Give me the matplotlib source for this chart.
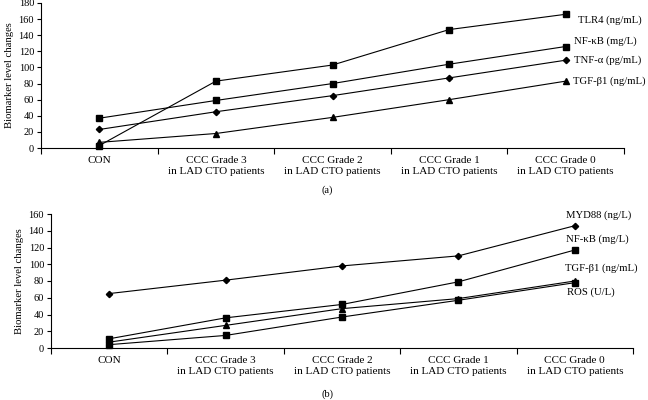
import matplotlib
matplotlib.use("Agg")
import matplotlib.pyplot as plt
from matplotlib.ticker import FixedLocator

plt.rcParams['font.family'] = ['Liberation Serif', 'DejaVu Serif']
plt.rcParams['font.size'] = 7.5

categories = ["CON",
              "CCC Grade 3\nin LAD CTO patients",
              "CCC Grade 2\nin LAD CTO patients",
              "CCC Grade 1\nin LAD CTO patients",
              "CCC Grade 0\nin LAD CTO patients"]

# panel (a)
tlr4 = [3, 83, 103, 147, 166]
nfkb_a = [37, 59, 80, 104, 126]
tnfa = [23, 45, 65, 87, 109]
tgfb1_a = [7, 18, 38, 60, 83]

# panel (b)
myd88 = [65, 81, 98, 110, 146]
nfkb_b = [11, 36, 52, 79, 117]
tgfb1_b = [7, 27, 47, 59, 80]
ros = [4, 15, 37, 57, 78]

series_a = [
    ("TLR4 (ng/mL)", tlr4, "s", 5.0, (9, -4)),
    ("NF-κB (mg/L)", nfkb_a, "s", 3.8, (6, 3.5)),
    ("TNF-α (pg/mL)", tnfa, "D", 3.2, (6, 0)),
    ("TGF-β1 (ng/mL)", tgfb1_a, "^", 4.0, (5, 0)),
]
series_b = [
    ("MYD88 (ng/L)", myd88, "D", 3.2, (-6, 7.5)),
    ("NF-κB (mg/L)", nfkb_b, "s", 3.8, (-6, 7.5)),
    ("TGF-β1 (ng/mL)", tgfb1_b, "^", 4.0, (-7, 9.5)),
    ("ROS (U/L)", ros, "s", 5.0, (-5.5, -7)),
]

fig = plt.figure(figsize=(6.48, 4.0), dpi=100)
ax1 = fig.add_axes([41 / 648, 1 - 148 / 400, 583 / 648, 145 / 400])
ax2 = fig.add_axes([51 / 648, 1 - 348 / 400, 582 / 648, 134 / 400])


def style(ax, ymax, series):
    x = [i + 0.5 for i in range(len(categories))]
    for name, vals, mk, ms, off in series:
        ax.plot(x, vals, color="black", lw=0.8, marker=mk, ms=ms,
                mfc="black", mec="black", clip_on=False)
        ax.annotate(name, (x[-1], vals[-1]), xytext=off,
                    textcoords="offset points", ha="left", va="center",
                    fontsize=7.7)
    ax.set_xlim(0, len(categories))
    ax.set_ylim(0, ymax)
    ax.set_yticks(range(0, ymax + 1, 20))
    ax.set_xticks(x)
    ax.set_xticklabels(categories, fontsize=8, linespacing=1.3)
    ax.xaxis.set_minor_locator(FixedLocator(range(len(categories) + 1)))
    ax.tick_params(axis="x", which="major", length=0, pad=6)
    ax.tick_params(axis="x", which="minor", length=4, width=0.8)
    ax.tick_params(axis="y", length=3, width=0.8, labelsize=7.5, pad=2)
    for s in ("top", "right"):
        ax.spines[s].set_visible(False)
    for s in ("left", "bottom"):
        ax.spines[s].set_linewidth(0.8)
    ax.set_ylabel("Biomarker level changes", fontsize=7.7, labelpad=3)


style(ax1, 180, series_a)
style(ax2, 160, series_b)

fig.text(327 / 648, 1 - 190 / 400, "(a)", ha="center", va="center", fontsize=7.5)
fig.text(327 / 648, 1 - 394 / 400, "(b)", ha="center", va="center", fontsize=7.5)

fig.savefig("out.png", dpi=100)
